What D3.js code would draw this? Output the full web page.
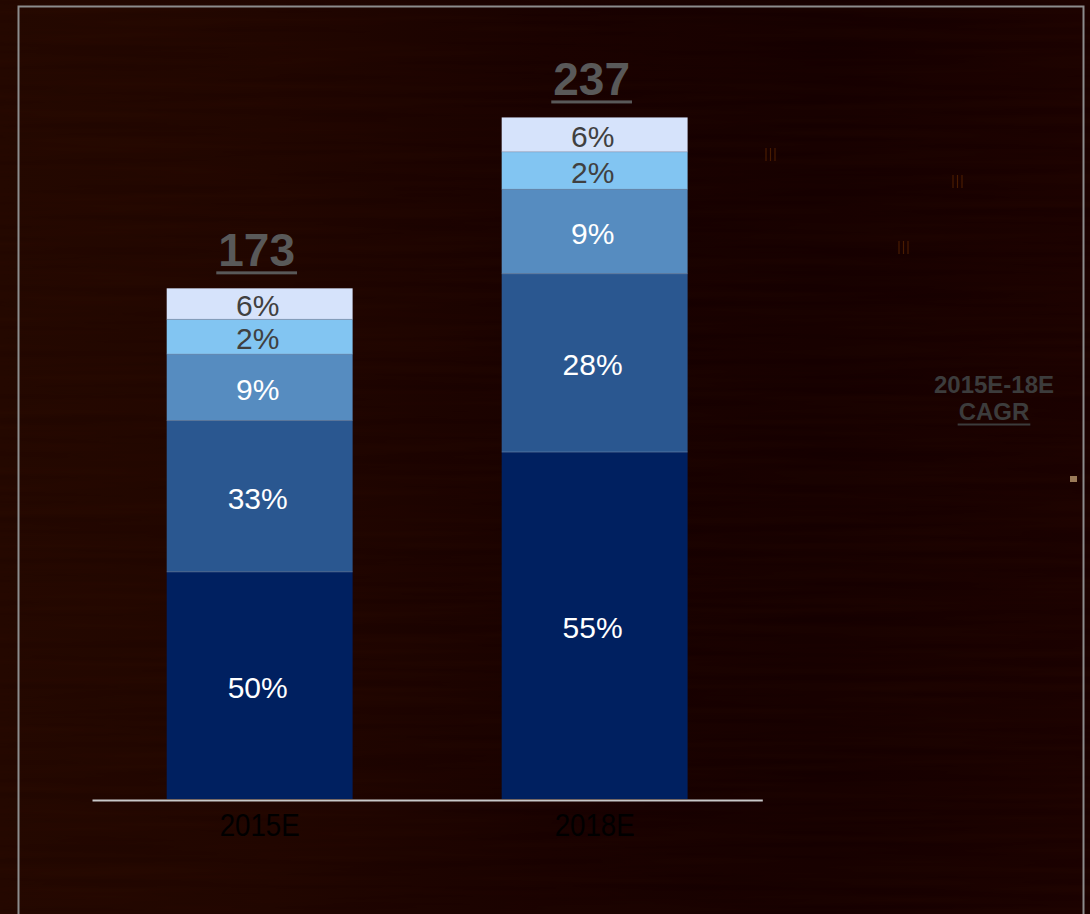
<!DOCTYPE html>
<html>
<head>
<meta charset="utf-8">
<script src="https://cdn.jsdelivr.net/npm/d3@7/dist/d3.min.js"></script>
<style>
  html, body { margin: 0; padding: 0; background: #1a0200; }
  svg { display: block; }
  text { font-family: "Liberation Sans", Arial, sans-serif; }
</style>
</head>
<body>
<svg id="chart" width="1090" height="914"></svg>
<script>
// ---- data ----
const categories = ["2015E", "2018E"];
const totals = [173, 237];
const seriesNames = ["s1", "s2", "s3", "s4", "s5"];           // bottom -> top
// segment sizes as drawn (same units as totals axis)
const seg2015 = [79.1, 52.7, 23.1, 12.1, 10.8];
const seg2018 = [120.8, 62.1, 29.4, 13.0, 12.0];
const shareLabels2015 = ["50%", "33%", "9%", "2%", "6%"];
const shareLabels2018 = ["55%", "28%", "9%", "2%", "6%"];
const cagrLines = ["2015E-18E", "CAGR"];

const colors = ["#002060", "#2a5790", "#568cc0", "#82c5f2", "#d6e3fb"];
const labelColors = ["#ffffff", "#ffffff", "#ffffff", "#404040", "#404040"];

const W = 1090, H = 914;
const svg = d3.select("#chart");

// ---- background ----
const defs = svg.append("defs");
const grad = defs.append("linearGradient").attr("id", "bg").attr("x1", 0).attr("x2", 1).attr("y1", 0).attr("y2", 0);
[[0, "#220700"], [0.25, "#1f0500"], [0.5, "#180100"], [0.75, "#150000"], [1, "#1a0100"]].forEach(([o, c]) =>
  grad.append("stop").attr("offset", o).attr("stop-color", c));
const f = defs.append("filter").attr("id", "streaks").attr("x", 0).attr("y", 0).attr("width", 1).attr("height", 1);
f.append("feTurbulence").attr("type", "fractalNoise").attr("baseFrequency", "0.004 0.12").attr("numOctaves", 2).attr("seed", 3).attr("result", "n");
f.append("feColorMatrix").attr("in", "n").attr("type", "matrix")
  .attr("values", "0 0 0 0 0.18  0 0 0 0 0.03  0 0 0 0 0.0  0 0 0 0.3 -0.05");
svg.append("rect").attr("width", W).attr("height", H).attr("fill", "url(#bg)");
svg.append("rect").attr("width", W).attr("height", H).attr("filter", "url(#streaks)").attr("opacity", 0.3);

// frame
svg.append("rect").attr("x", 18.5).attr("y", 6.5).attr("width", 1065).attr("height", 940)
  .attr("fill", "none").attr("stroke", "#8c8c8c").attr("stroke-width", 2);

// small stray marks
[[766, 148], [953, 175], [899, 241]].forEach(([x, y]) => {
  [0, 4.5, 9].forEach(dx => svg.append("line").attr("x1", x + dx).attr("x2", x + dx).attr("y1", y).attr("y2", y + 13)
    .attr("stroke", "#4a1c00").attr("stroke-width", 1.2));
});
svg.append("rect").attr("x", 1070).attr("y", 476).attr("width", 7).attr("height", 6).attr("fill", "#9a7a58");

// ---- scales ----
const x = d3.scaleBand().domain(categories).range([92, 762.3]).paddingInner(0.445).paddingOuter(0.223);
const y = d3.scaleLinear().domain([0, 237]).range([799, 118.3]);

const segData = [seg2015, seg2018];
const labData = [shareLabels2015, shareLabels2018];

const stackRows = categories.map((c, i) => {
  const row = { cat: c };
  seriesNames.forEach((s, j) => row[s] = segData[i][j]);
  return row;
});
const stacked = d3.stack().keys(seriesNames)(stackRows);

const g = svg.append("g");
stacked.forEach((layer, j) => {
  g.selectAll(null).data(layer).join("rect")
    .attr("x", d => x(d.data.cat))
    .attr("y", d => y(d[1]))
    .attr("width", x.bandwidth())
    .attr("height", d => y(d[0]) - y(d[1]))
    .attr("fill", colors[j]);
});
// thin segment separators
stacked.forEach((layer, j) => {
  if (j === 0) return;
  g.selectAll(null).data(layer).join("line")
    .attr("x1", d => x(d.data.cat)).attr("x2", d => x(d.data.cat) + x.bandwidth())
    .attr("y1", d => y(d[0])).attr("y2", d => y(d[0]))
    .attr("stroke", "#7f95b5").attr("stroke-width", 1).attr("opacity", 0.5);
});
stacked.forEach((layer, j) => {
  g.selectAll(null).data(layer).join("text")
    .attr("x", d => x(d.data.cat) + x.bandwidth() / 2 - 2)
    .attr("y", d => (y(d[0]) + y(d[1])) / 2 + 2)
    .attr("text-anchor", "middle")
    .attr("dominant-baseline", "central")
    .attr("font-size", 30)
    .attr("fill", labelColors[j])
    .text((d, i) => labData[i][j]);
});

// totals
categories.forEach((c, i) => {
  const top = y(d3.sum(segData[i]));
  const cx = x(c) + x.bandwidth() / 2;
  const t = svg.append("text").attr("x", cx - 3).attr("y", top - 22.5)
    .attr("text-anchor", "middle").attr("font-size", 46).attr("font-weight", "bold")
    .attr("fill", "#595959").text(totals[i]);
  const w = t.node().getComputedTextLength() + 4;
  svg.append("rect").attr("x", cx - 3 - w / 2).attr("y", top - 17).attr("width", w).attr("height", 3).attr("fill", "#595959");
});

// axis
const ax = svg.append("g").attr("transform", "translate(0,800)")
  .call(d3.axisBottom(x).tickSize(0).tickSizeOuter(0).tickPadding(0));
ax.select(".domain").attr("stroke", "#c8c8c8").attr("stroke-width", 2);
ax.selectAll(".tick text")
  .attr("font-family", "'Liberation Sans', Arial, sans-serif")
  .attr("font-size", 32).attr("fill", "#000000")
  .attr("dy", null).attr("y", 36)
  .attr("textLength", 80).attr("lengthAdjust", "spacingAndGlyphs");

// CAGR header
svg.append("text").attr("x", 994).attr("y", 393).attr("text-anchor", "middle")
  .attr("font-size", 24).attr("font-weight", "bold").attr("fill", "#3c3c3c").text(cagrLines[0]);
const cg = svg.append("text").attr("x", 994).attr("y", 420).attr("text-anchor", "middle")
  .attr("font-size", 24).attr("font-weight", "bold").attr("fill", "#3c3c3c").text(cagrLines[1]);
const cw = cg.node().getComputedTextLength() + 2;
svg.append("rect").attr("x", 994 - cw / 2).attr("y", 423.5).attr("width", cw).attr("height", 2).attr("fill", "#3c3c3c");
</script>
</body>
</html>
